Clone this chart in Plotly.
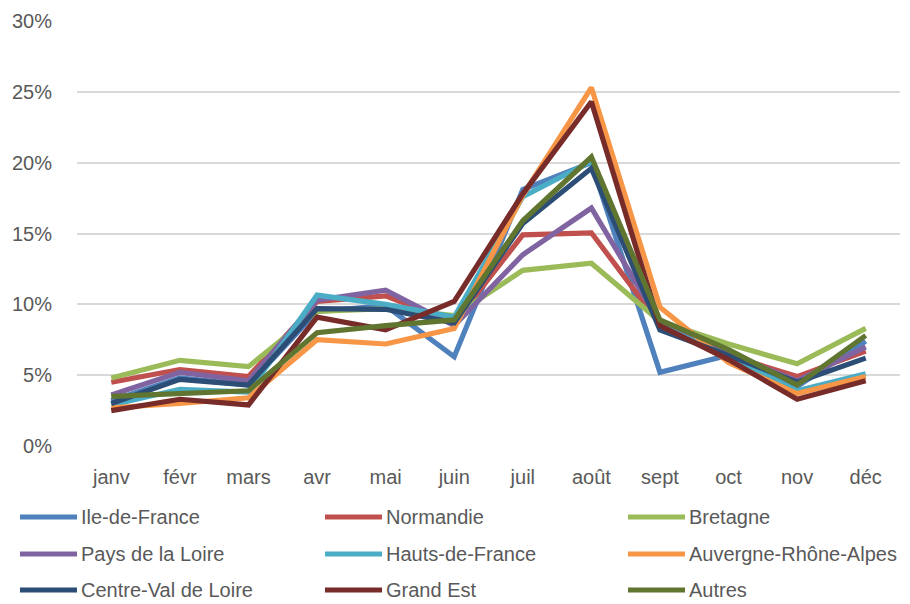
import plotly.graph_objects as go

# Months (French abbreviations)
months = ["janv", "févr", "mars", "avr", "mai", "juin",
          "juil", "août", "sept", "oct", "nov", "déc"]

# Monthly share of stays per region, in %
ile_de_france = [3.2, 4.8, 4.3, 9.5, 9.9, 6.3, 18.1, 20.0, 5.2, 6.4, 4.2, 7.4]
normandie = [4.5, 5.4, 4.9, 10.2, 10.6, 8.7, 14.9, 15.05, 8.6, 6.4, 4.9, 6.7]
bretagne = [4.8, 6.05, 5.6, 9.5, 9.7, 9.2, 12.4, 12.9, 8.8, 7.2, 5.8, 8.3]
pays_de_la_loire = [3.6, 5.2, 4.6, 10.3, 11.0, 8.5, 13.5, 16.8, 8.7, 6.5, 4.6, 7.0]
hauts_de_france = [2.9, 4.0, 3.8, 10.65, 10.0, 9.1, 17.6, 20.1, 8.5, 6.3, 3.9, 5.1]
auvergne_rhone_alpes = [2.7, 3.0, 3.4, 7.5, 7.2, 8.3, 17.7, 25.3, 9.8, 5.9, 3.7, 4.9]
centre_val_de_loire = [3.0, 4.7, 4.3, 9.7, 9.65, 8.7, 15.7, 19.6, 8.2, 6.4, 4.5, 6.2]
grand_est = [2.5, 3.3, 2.9, 9.1, 8.2, 10.2, 17.8, 24.3, 8.5, 6.1, 3.3, 4.6]
autres = [3.5, 3.7, 3.9, 8.0, 8.5, 8.9, 15.9, 20.4, 8.9, 6.8, 4.3, 7.8]

series_names = ["Ile-de-France", "Normandie", "Bretagne", "Pays de la Loire",
                "Hauts-de-France", "Auvergne-Rhône-Alpes", "Centre-Val de Loire",
                "Grand Est", "Autres"]
series_values = [ile_de_france, normandie, bretagne, pays_de_la_loire,
                 hauts_de_france, auvergne_rhone_alpes, centre_val_de_loire,
                 grand_est, autres]
series_colors = ["#4F81BD", "#C0504D", "#9BBB59", "#8064A2", "#4BACC6",
                 "#F79646", "#2C4D75", "#772C2A", "#5F7530"]

y_ticks = [0, 5, 10, 15, 20, 25, 30]
y_tick_labels = ["0%", "5%", "10%", "15%", "20%", "25%", "30%"]

W, H = 910, 604
ML, MR, MT, MB = 77, 10, 21, 158
plot_w = W - ML - MR
plot_h = H - MT - MB

fig = go.Figure()
for name, vals, col in zip(series_names, series_values, series_colors):
    fig.add_trace(go.Scatter(
        x=months, y=vals, name=name, mode="lines",
        line=dict(color=col, width=5.2),
        showlegend=False,
    ))

# Legend: three columns of line swatches with labels
shapes = []
annotations = []
col_x = [20, 325, 628]
row_y = [517, 554, 590]
for i, (name, col) in enumerate(zip(series_names, series_colors)):
    px = col_x[i % 3]
    py = row_y[i // 3]
    x0 = (px - ML) / plot_w
    x1 = (px + 57 - ML) / plot_w
    yy = (H - MB - py) / plot_h
    shapes.append(dict(type="line", xref="paper", yref="paper",
                       x0=x0, x1=x1, y0=yy, y1=yy,
                       line=dict(color=col, width=5.2)))
    annotations.append(dict(xref="paper", yref="paper",
                            x=(px + 59 - ML) / plot_w, y=yy,
                            xanchor="left", yanchor="middle",
                            text=name, showarrow=False,
                            font=dict(size=20, color="#595959")))

fig.update_layout(
    width=W, height=H,
    margin=dict(l=ML, r=MR, t=MT, b=MB),
    paper_bgcolor="white", plot_bgcolor="white",
    font=dict(family="Liberation Sans, Arial, sans-serif", size=20, color="#595959"),
    xaxis=dict(type="category", range=[-0.5, 11.5], showgrid=False,
               showline=False, zeroline=False, ticks="",
               tickfont=dict(size=20, color="#595959"),
               ticklabelstandoff=17),
    yaxis=dict(range=[0, 30], tickvals=y_ticks, ticktext=y_tick_labels,
               showgrid=True, gridcolor="#D9D9D9", gridwidth=1.5,
               zeroline=False, showline=False, ticks="",
               tickfont=dict(size=20, color="#595959"),
               ticklabelstandoff=24),
    shapes=shapes,
    annotations=annotations,
)

fig.write_html("out.html")
